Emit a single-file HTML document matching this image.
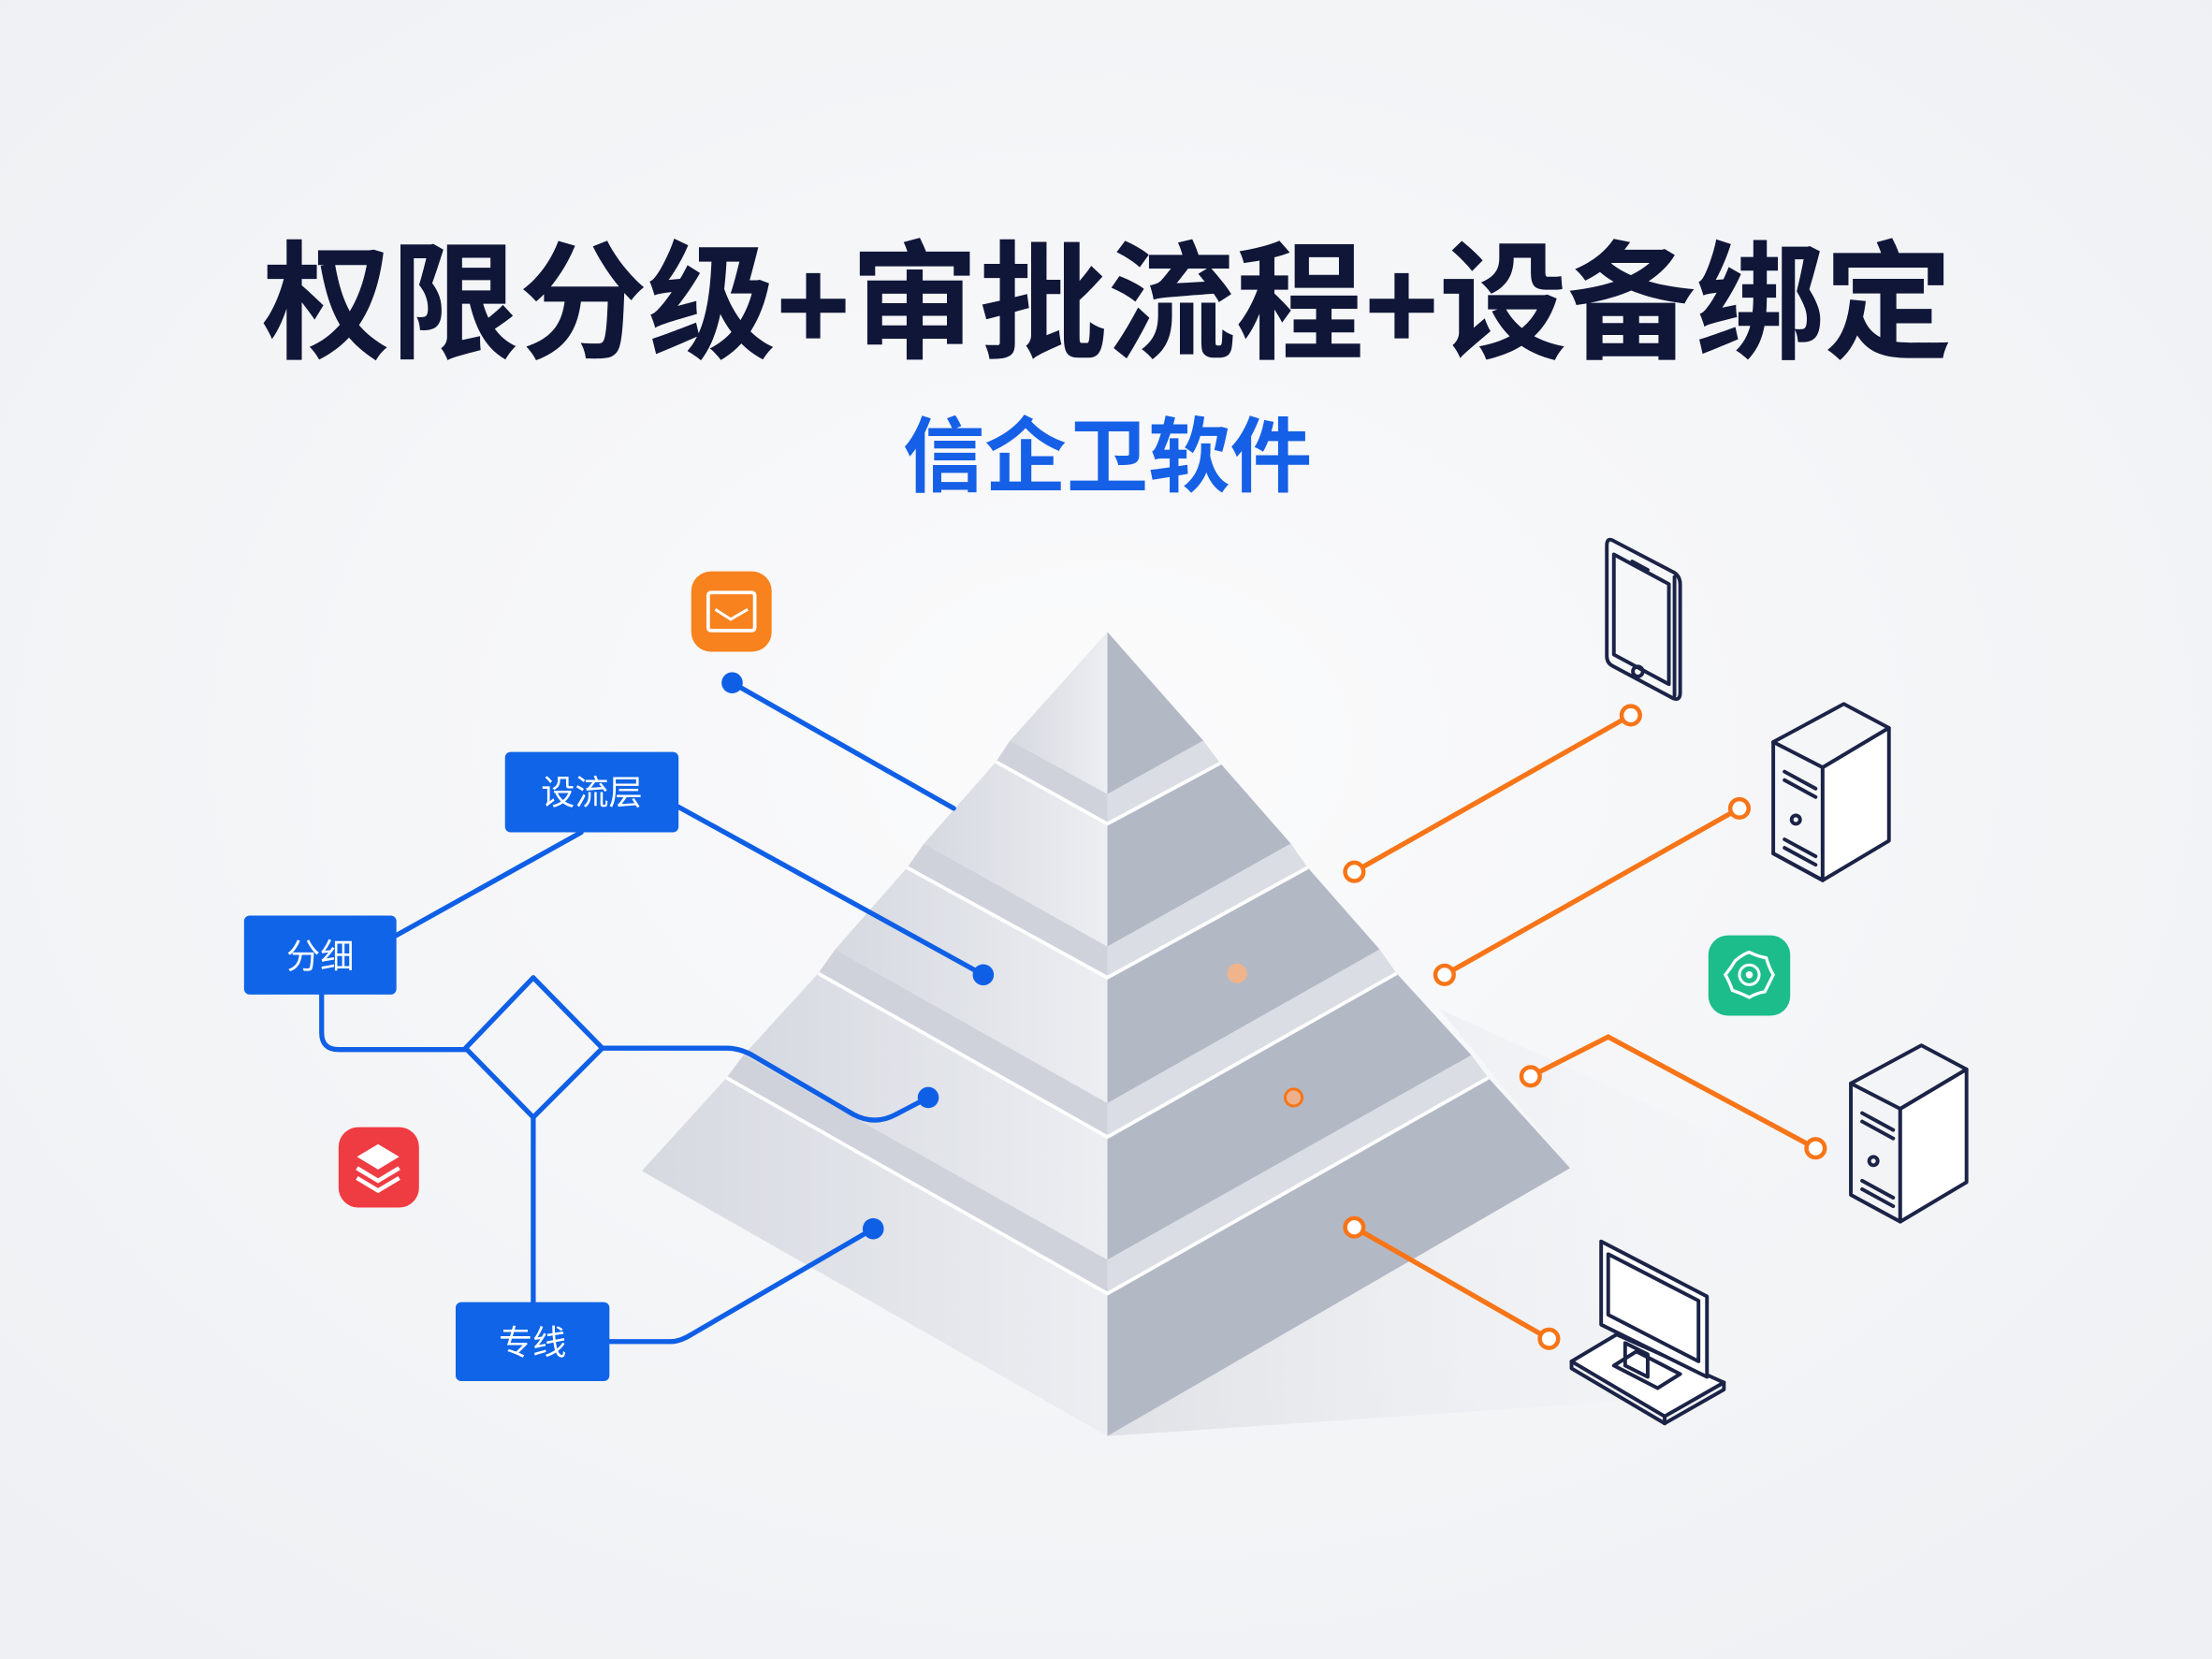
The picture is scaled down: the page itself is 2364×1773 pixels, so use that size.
<!DOCTYPE html>
<html><head><meta charset="utf-8"><style>
html,body{margin:0;padding:0;width:2364px;height:1773px;overflow:hidden;background:#f4f5f7}
svg{display:block}
</style></head><body>
<svg width="2364" height="1773" viewBox="0 0 1568 1176" preserveAspectRatio="none" xmlns="http://www.w3.org/2000/svg">
<defs>
<radialGradient id="bg" cx="50%" cy="45%" r="70%">
<stop offset="0" stop-color="#fbfbfc"/><stop offset="1" stop-color="#eef0f3"/>
</radialGradient>
<linearGradient id="lf" x1="0" y1="0" x2="1" y2="0">
<stop offset="0" stop-color="#d6d9e0"/><stop offset="1" stop-color="#eceef2"/>
</linearGradient>
<linearGradient id="sh" x1="0" y1="0" x2="1" y2="0">
<stop offset="0" stop-color="#dfe1e6"/><stop offset="1" stop-color="#eef0f3" stop-opacity="0"/>
</linearGradient>
</defs>
<rect width="1568" height="1176" fill="url(#bg)"/>

<polygon points="1020,715 1250,820 1200,990 785,1018 1113,828" fill="url(#sh)"/>

<g stroke="none">
<polygon points="785,448 716,525 785,563" fill="url(#lf)"/>
<polygon points="785,448 853,525 785,563" fill="#b3b8c5"/>
<polygon points="716,525 785,563 785,584 706,540" fill="#cfd2da"/>
<polygon points="853,525 785,563 785,584 865,541" fill="#dadde4"/>
<polygon points="706,540 785,584 785,671 655,598" fill="url(#lf)"/>
<polygon points="865,541 785,584 785,671 915,598" fill="#b3b8c5"/>
<polygon points="655,598 785,671 785,693 643,615" fill="#cfd2da"/>
<polygon points="915,598 785,671 785,693 927,615" fill="#dadde4"/>
<polygon points="643,615 785,693 785,782 592,673" fill="url(#lf)"/>
<polygon points="927,615 785,693 785,782 978,673" fill="#b3b8c5"/>
<polygon points="592,673 785,782 785,806 580,690" fill="#cfd2da"/>
<polygon points="978,673 785,782 785,806 990,690" fill="#dadde4"/>
<polygon points="580,690 785,806 785,893 527,748" fill="url(#lf)"/>
<polygon points="990,690 785,806 785,893 1043,748" fill="#b3b8c5"/>
<polygon points="527,748 785,893 785,917 515,764" fill="#cfd2da"/>
<polygon points="1043,748 785,893 785,917 1055,764" fill="#dadde4"/>
<polygon points="515,764 785,917 785,1018 455,830" fill="url(#lf)"/>
<polygon points="1055,764 785,917 785,1018 1113,828" fill="#b3b8c5"/>
</g>
<g fill="none" stroke="#ffffff" stroke-width="2.5">
<polyline points="706,540 785,584 865,541"/>
<polyline points="643,615 785,693 927,615"/>
<polyline points="580,690 785,806 990,690"/>
<polyline points="515,764 785,917 1055,764"/>
</g>

<g fill="none" stroke="#0f5fe6" stroke-width="3.5" stroke-linecap="round" stroke-linejoin="round">
<line x1="519" y1="484" x2="676" y2="573"/>
<line x1="481" y1="572" x2="697" y2="691"/>
<line x1="412" y1="590" x2="281" y2="663"/>
<path d="M228,705 V732 Q228,744 240,744 H330"/>
<polygon points="378,693 427,743 378,792 330,743"/>
<path d="M427,743 H515 Q525,743 535,749 L605,790 Q620,798 635,790 L658,778"/>
<line x1="378" y1="792" x2="378" y2="923"/>
<path d="M432,951 H475 Q482,951 490,946 L619,871"/>
</g>
<g fill="#0f5fe6">
<circle cx="519" cy="484" r="7.5"/>
<circle cx="697" cy="691" r="7.5"/>
<circle cx="658" cy="778" r="7.5"/>
<circle cx="619" cy="871" r="7.5"/>
</g>

<g font-family="Liberation Sans, Noto Sans CJK SC, sans-serif" font-size="24" fill="#fff" text-anchor="middle">
<rect x="358" y="533" width="123" height="57" rx="4" fill="#0f64e8"/>
<text x="419.5" y="570">设流层</text>
<rect x="173" y="649" width="108" height="56" rx="4" fill="#0f64e8"/>
<text x="227" y="686">分细</text>
<rect x="323" y="923" width="109" height="56" rx="4" fill="#0f64e8"/>
<text x="377.5" y="960">专线</text>
</g>

<g fill="none" stroke="#f77518" stroke-width="3.5" stroke-linecap="round">
<line x1="960" y1="618" x2="1156" y2="507"/>
<line x1="1024" y1="691" x2="1233" y2="573"/>
<polyline points="1085,763 1140,735 1287,814"/>
<line x1="960" y1="870" x2="1098" y2="949"/>
</g>
<g fill="#fff" stroke="#f77518" stroke-width="3">
<circle cx="960" cy="618" r="6.5"/>
<circle cx="1156" cy="507" r="6.5"/>
<circle cx="1024" cy="691" r="6.5"/>
<circle cx="1233" cy="573" r="6.5"/>
<circle cx="1085" cy="763" r="6.5"/>
<circle cx="1287" cy="814" r="6.5"/>
<circle cx="960" cy="870" r="6.5"/>
<circle cx="1098" cy="949" r="6.5"/>
</g>
<circle cx="877" cy="690" r="7" fill="#efb48c"/>
<circle cx="917" cy="778" r="6" fill="#eeb08a" stroke="#f77518" stroke-width="2"/>

<rect x="490" y="405" width="57" height="57" rx="14" fill="#f7821e"/>
<rect x="502" y="420" width="33" height="27" rx="2" fill="none" stroke="#fff" stroke-width="2.5"/>
<polyline points="507,432 518,439 530,432" fill="none" stroke="#fff" stroke-width="2"/>

<rect x="240" y="799" width="57" height="57" rx="14" fill="#ef3b42"/>
<polygon points="268,811 283,820 268,829 253,820" fill="#fff"/>
<polyline points="253,828 268,837 283,828" fill="none" stroke="#fff" stroke-width="3"/>
<polyline points="253,835 268,844 283,835" fill="none" stroke="#fff" stroke-width="3"/>

<rect x="1211" y="663" width="58" height="57" rx="14" fill="#1dbd8b"/>
<path d="M1230,681 Q1236,676 1240,675 Q1246,678 1252,679 Q1254,686 1257,691 Q1254,697 1251,703 Q1245,704 1240,707 Q1234,704 1228,702 Q1226,696 1223,691 Q1227,686 1230,681 Z" fill="none" stroke="#fff" stroke-width="2.2"/>
<circle cx="1240" cy="691" r="7" fill="none" stroke="#fff" stroke-width="2"/>
<circle cx="1240" cy="691" r="2.5" fill="#fff"/>

<g fill="none" stroke="#1b2347" stroke-width="2.6" stroke-linejoin="round" stroke-linecap="round">
<path d="M1143,383 L1187,406 Q1191,409 1191,414 V491 Q1191,497 1186,495 L1143,472 Q1139,470 1139,465 V387 Q1139,381 1143,383 Z"/>
<polygon points="1144,393 1183,414 1183,485 1144,464"/>
<line x1="1157" y1="398" x2="1168" y2="404"/>
<circle cx="1161" cy="476" r="3.5"/>
<line x1="1187" y1="409" x2="1187" y2="493"/>
<g transform="translate(1257,526)">
<polygon points="0,0 50,-27 82,-10 35,18"/>
<path d="M0,0 V79 L35,98 V18"/>
<polygon points="35,18 82,-10 82,70 35,98" fill="#fff"/>
<line x1="0" y1="79" x2="35" y2="98"/>
<line x1="8" y1="21" x2="30" y2="33"/><line x1="8" y1="27" x2="30" y2="39"/>
<circle cx="16" cy="55" r="3"/>
<line x1="8" y1="69" x2="30" y2="81"/><line x1="8" y1="75" x2="30" y2="87"/>
</g>
<g transform="translate(1312,768)">
<polygon points="0,0 50,-27 82,-10 35,18"/>
<path d="M0,0 V79 L35,98 V18"/>
<polygon points="35,18 82,-10 82,70 35,98" fill="#fff"/>
<line x1="8" y1="21" x2="30" y2="33"/><line x1="8" y1="27" x2="30" y2="39"/>
<circle cx="16" cy="55" r="3"/>
<line x1="8" y1="69" x2="30" y2="81"/><line x1="8" y1="75" x2="30" y2="87"/>
</g>
<polygon points="1114,965 1146,946 1222,980 1180,1004" fill="#fff"/>
<polyline points="1114,965 1114,970 1180,1009 1222,985 1222,980"/>
<line x1="1180" y1="1004" x2="1180" y2="1009"/>
<polygon points="1144,968 1160,958 1191,974 1175,984"/>
<polygon points="1152,952 1168,960 1168,976 1152,968"/>
<polygon points="1135,880 1210,919 1210,976 1135,939" fill="#fff"/>
<polygon points="1140,889 1204,922 1204,965 1140,932"/>
</g>

<text x="785" y="247" text-anchor="middle" font-family="Liberation Sans, Noto Sans CJK SC, sans-serif" font-weight="bold" font-size="91" fill="#0f1638">权限分级+审批流程+设备绑定</text>
<text x="785" y="344" text-anchor="middle" font-family="Liberation Sans, Noto Sans CJK SC, sans-serif" font-weight="bold" font-size="58" fill="#1560e6">信企卫软件</text>
</svg>
</body></html>
